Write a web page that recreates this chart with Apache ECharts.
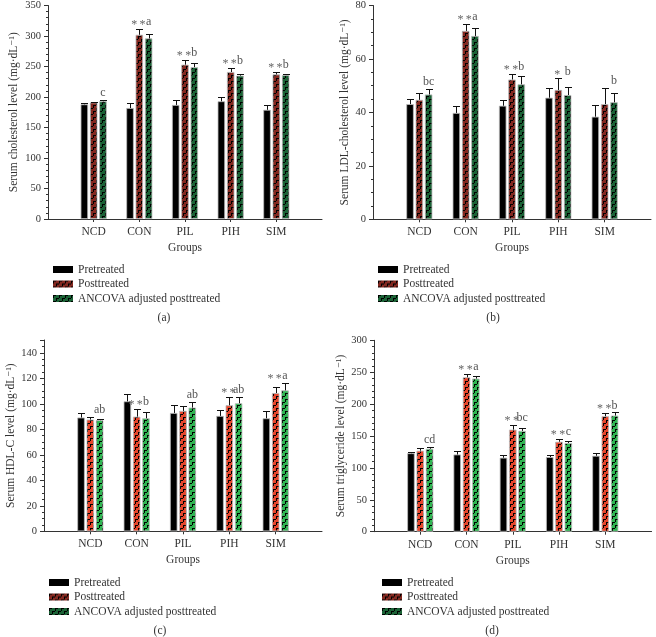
<!DOCTYPE html>
<html><head><meta charset="utf-8">
<script src="https://cdn.jsdelivr.net/npm/echarts@6/dist/echarts.min.js"></script>
<style>html,body{margin:0;padding:0;background:#fff}#c{width:656px;height:637px}</style>
</head><body><div id="c"></div>
<script>
// ---------- data ----------
const groups = ['NCD', 'CON', 'PIL', 'PIH', 'SIM'];
const seriesNames = ['Pretreated', 'Posttreated', 'ANCOVA adjusted posttreated'];

// (a) total cholesterol
const cholPre = [188, 182, 187, 193, 179];
const cholPreSd = [1.5, 8, 7.5, 7, 8];
const cholPost = [191, 302, 253, 241, 237];
const cholPostSd = [1.5, 10, 8, 7, 4];
const cholAdj = [193, 296, 249, 235, 236];
const cholAdjSd = [2, 8, 6.5, 3.5, 2.5];
const cholStars = ['', '**', '**', '**', '**'];
const cholLetters = ['c', 'a', 'b', 'b', 'b'];

// (b) LDL-cholesterol
const ldlPre = [43.1, 39.8, 42.5, 45.5, 38.4];
const ldlPreSd = [2, 2.5, 2.3, 3.6, 4.3];
const ldlPost = [44.7, 70.5, 52.3, 48.4, 43.1];
const ldlPostSd = [2.5, 2.5, 2.1, 4.3, 6];
const ldlAdj = [46.7, 68.6, 50.5, 46.5, 43.8];
const ldlAdjSd = [2, 2.8, 3, 3, 3.3];
const ldlStars = ['', '**', '**', '*', ''];
const ldlLetters = ['bc', 'a', 'b', 'b', 'b'];

// (c) HDL-C
const hdlPre = [89.2, 101.9, 92.8, 90.5, 88.6];
const hdlPreSd = [3.6, 6, 6.5, 5, 5.8];
const hdlPost = [87.6, 89.9, 94.4, 98.8, 108.4];
const hdlPostSd = [2.3, 6, 4.1, 6.5, 5];
const hdlAdj = [87.1, 88.6, 97, 100.4, 110.5];
const hdlAdjSd = [1.3, 5, 4.4, 5, 6];
const hdlStars = ['', '**', '', '**', '**'];
const hdlLetters = ['ab', 'b', 'ab', 'ab', 'a'];

// (d) triglyceride
const tgPre = [123, 121, 116, 117, 119];
const tgPreSd = [2.7, 6, 5, 4, 5];
const tgPost = [127, 242, 160, 141, 181];
const tgPostSd = [4, 5, 7, 5, 5];
const tgAdj = [130, 240, 158, 139, 182];
const tgAdjSd = [3, 4.5, 4, 3.5, 5];
const tgStars = ['', '**', '**', '**', '**'];
const tgLetters = ['cd', 'a', 'bc', 'c', 'b'];

// y axis ticks
const cholAxis = {max: 350, interval: 50, minor: 5};
const ldlAxis = {max: 80, interval: 20, minor: 4};
const hdlAxis = {max: 150, interval: 20, minor: 4};
const tgAxis = {max: 300, interval: 50, minor: 5};

// ---------- styling ----------
const FONT = '"Liberation Serif","DejaVu Serif",serif';
const TXT = '#333';
const BW = 7.5, OFF = 9.3;

function patternCanvas(base) {
  const c = document.createElement('canvas');
  c.width = 6; c.height = 6;
  const g = c.getContext('2d');
  g.fillStyle = base; g.fillRect(0, 0, 6, 6);
  g.fillStyle = '#000';
  g.fillRect(0, 0, 3, 1); g.fillRect(0, 0, 1, 3); g.fillRect(3, 3, 3, 1); g.fillRect(3, 3, 1, 3);
  return c;
}

const panels = [
  {pre: cholPre, preSd: cholPreSd, post: cholPost, postSd: cholPostSd, adj: cholAdj, adjSd: cholAdjSd,
   stars: cholStars, letters: cholLetters, axis: cholAxis,
   name: 'Serum cholesterol level (mg·dL\u207B\u00B9)', nameGap: 28,
   grid: {left: 48, top: 3, width: 274, height: 216}, red: '#842820', green: '#1b6236',
   legend: {left: 48, top: 258.5}, cap: {x: 164, y: 318, t: '(a)'}},
  {pre: ldlPre, preSd: ldlPreSd, post: ldlPost, postSd: ldlPostSd, adj: ldlAdj, adjSd: ldlAdjSd,
   stars: ldlStars, letters: ldlLetters, axis: ldlAxis,
   name: 'Serum LDL-cholesterol level (mg·dL\u207B\u00B9)', nameGap: 22,
   grid: {left: 373, top: 3.3, width: 278, height: 216}, red: '#842820', green: '#1b6236',
   legend: {left: 373, top: 258.5}, cap: {x: 493, y: 318, t: '(b)'}},
  {pre: hdlPre, preSd: hdlPreSd, post: hdlPost, postSd: hdlPostSd, adj: hdlAdj, adjSd: hdlAdjSd,
   stars: hdlStars, letters: hdlLetters, axis: hdlAxis,
   name: 'Serum HDL-C level (mg·dL\u207B\u00B9)', nameGap: 25,
   grid: {left: 44, top: 340, width: 278, height: 191.3}, red: '#e8462c', green: '#30b552',
   legend: {left: 44, top: 571.5}, cap: {x: 160, y: 631, t: '(c)'}},
  {pre: tgPre, preSd: tgPreSd, post: tgPost, postSd: tgPostSd, adj: tgAdj, adjSd: tgAdjSd,
   stars: tgStars, letters: tgLetters, axis: tgAxis,
   name: 'Serum triglyceride level (mg·dL\u207B\u00B9)', nameGap: 25,
   grid: {left: 374, top: 340.3, width: 278, height: 191.4}, red: '#e8462c', green: '#30b552',
   legend: {left: 377, top: 571.5}, cap: {x: 492, y: 631, t: '(d)'}}
];

const cats = [''].concat(groups, [' ']);

function errRender(offset) {
  return function (params, api) {
    const base = api.coord([api.value(0), api.value(1)]);
    const top = api.coord([api.value(0), api.value(1) + api.value(2)]);
    const cx = Math.round(base[0] + offset) + 0.5;
    const ty = Math.round(top[1]) + 0.5;
    return {type: 'group', children: [
      {type: 'line', shape: {x1: cx, y1: base[1], x2: cx, y2: ty}, style: {stroke: '#111', lineWidth: 1}},
      {type: 'line', shape: {x1: cx - 3.5, y1: ty, x2: cx + 3.5, y2: ty}, style: {stroke: '#111', lineWidth: 1}}
    ]};
  };
}

function annRender(stars, letters) {
  return function (params, api) {
    const p = api.coord([api.value(0), api.value(1)]);
    const i = params.dataIndex;
    const y = p[1] - 1;
    return {type: 'group', children: [
      {type: 'text', x: p[0] - 1, y: y + 3, style: {text: stars[i].split('').join('\u2009'), fill: '#666', font: '12px ' + FONT, align: 'center', verticalAlign: 'bottom'}},
      {type: 'text', x: p[0] + OFF, y: y, style: {text: letters[i], fill: '#555', font: '12px ' + FONT, align: 'center', verticalAlign: 'bottom'}}
    ]};
  };
}

const grid = [], xAxis = [], yAxis = [], series = [], legend = [], graphic = [];
panels.forEach((P, k) => {
  grid.push(P.grid);
  xAxis.push({type: 'category', gridIndex: k, data: cats, boundaryGap: false,
    name: 'Groups', nameLocation: 'middle', nameGap: 23,
    nameTextStyle: {fontFamily: FONT, fontSize: 11.5, color: TXT},
    axisLine: {lineStyle: {color: '#333', width: 1}},
    axisTick: {show: true, length: 3, interval: (idx) => idx >= 1 && idx <= groups.length, lineStyle: {color: '#333'}},
    axisLabel: {interval: 0, margin: 7, fontFamily: FONT, fontSize: 11.5, color: TXT},
    splitLine: {show: false}});
  yAxis.push({type: 'value', gridIndex: k, min: 0, max: P.axis.max, interval: P.axis.interval,
    name: P.name, nameLocation: 'middle', nameGap: P.nameGap, nameRotate: 90,
    nameTextStyle: {fontFamily: FONT, fontSize: 11.5, color: TXT},
    axisLine: {show: true, lineStyle: {color: '#333', width: 1}},
    axisTick: {show: true, length: 4, lineStyle: {color: '#333'}},
    minorTick: {show: true, splitNumber: P.axis.minor, length: 2, lineStyle: {color: '#333'}},
    axisLabel: {margin: 7, fontFamily: FONT, fontSize: 10.5, color: TXT, showMaxLabel: P.axis.max % P.axis.interval === 0},
    splitLine: {show: false}});
  const fills = ['#000', {image: patternCanvas(P.red), repeat: 'repeat'}, {image: patternCanvas(P.green), repeat: 'repeat'}];
  const vals = [P.pre, P.post, P.adj];
  const sds = [P.preSd, P.postSd, P.adjSd];
  const offs = [-OFF, 0, OFF];
  vals.forEach((v, s) => {
    series.push({type: 'bar', name: seriesNames[s], xAxisIndex: k, yAxisIndex: k,
      barWidth: BW, barGap: '24%', z: 2,
      itemStyle: {color: fills[s], borderColor: '#bdbdbd', borderWidth: 0.8},
      emphasis: {disabled: true},
      data: v.map((y, i) => [i + 1, y])});
  });
  vals.forEach((v, s) => {
    series.push({type: 'custom', xAxisIndex: k, yAxisIndex: k, z: 3, silent: true,
      renderItem: errRender(offs[s]),
      data: v.map((y, i) => [i + 1, y, sds[s][i]])});
  });
  series.push({type: 'custom', xAxisIndex: k, yAxisIndex: k, z: 4, silent: true,
    renderItem: annRender(P.stars, P.letters),
    data: groups.map((g, i) => [i + 1, Math.max(P.post[i] + P.postSd[i], P.adj[i] + P.adjSd[i])])});
  legend.push({left: P.legend.left, top: P.legend.top, orient: 'vertical', selectedMode: false,
    itemWidth: 20, itemHeight: 7, itemGap: 2.5, icon: 'rect',
    itemStyle: {borderWidth: 0},
    textStyle: {fontFamily: FONT, fontSize: 11.5, color: TXT, lineHeight: 11},
    data: seriesNames});
  graphic.push({type: 'text', x: P.cap.x, y: P.cap.y,
    style: {text: P.cap.t, fill: TXT, font: '11.5px ' + FONT, align: 'center', verticalAlign: 'middle'}});
});

const chart = echarts.init(document.getElementById('c'), null, {renderer: 'canvas'});
chart.setOption({animation: false, backgroundColor: '#fff', grid, xAxis, yAxis, series, legend, graphic});
</script>
</body></html>
